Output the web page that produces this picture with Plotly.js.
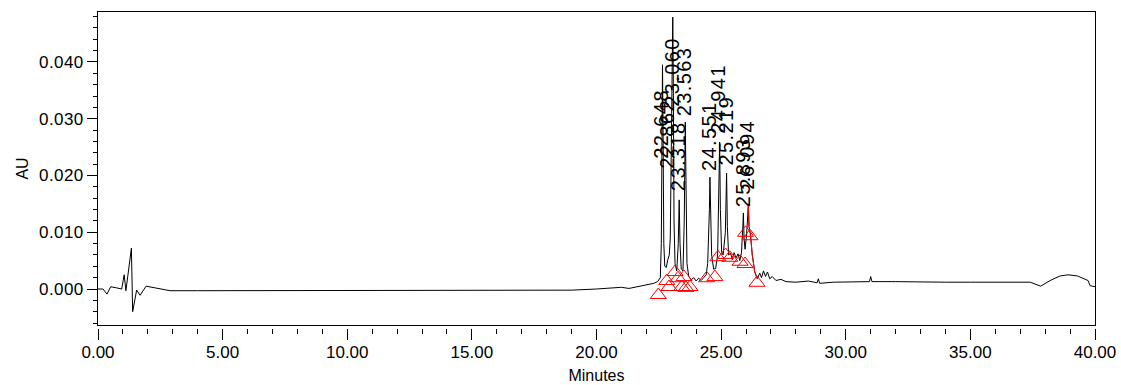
<!DOCTYPE html>
<html>
<head>
<meta charset="utf-8">
<script src="https://cdn.plot.ly/plotly-3.0.1.min.js"></script>
<style>
  html, body { margin: 0; padding: 0; background: #fff; }
  #chart { width: 1121px; height: 385px; }
  .annotation-text { letter-spacing: 1.4px; }
  .xtick text, .ytick text { letter-spacing: 0.4px; }
</style>
</head>
<body>
<div id="chart"></div>
<script>
// Chromatogram trace (minutes, AU)
const timeMin = [
  0, 0.2, 0.36, 0.51, 0.75, 0.95, 1.05, 1.12, 1.34, 1.39, 1.55, 1.69, 1.93, 2.35, 2.89,
  4, 6, 8, 10, 12, 14, 16, 18, 19, 20, 20.5, 21.0, 21.3, 21.75, 22.0, 22.3, 22.45,
  22.56, 22.60, 22.63, 22.648, 22.67, 22.70, 22.74, 22.80, 22.862, 22.92, 22.96,
  23.00, 23.04, 23.06, 23.08, 23.11, 23.15, 23.22, 23.28, 23.318, 23.35, 23.40,
  23.47, 23.52, 23.563, 23.59, 23.63, 23.70, 23.80, 23.90, 24.00, 24.10, 24.20,
  24.30, 24.40, 24.46, 24.50, 24.53, 24.551, 24.58, 24.62, 24.70, 24.78, 24.86,
  24.91, 24.941, 24.97, 25.02, 25.08, 25.14, 25.17, 25.219, 25.25, 25.30, 25.38,
  25.45, 25.52, 25.60, 25.68, 25.75, 25.82, 25.87, 25.893, 25.92, 25.96, 26.02,
  26.06, 26.094, 26.12, 26.18, 26.25, 26.35, 26.45, 26.55, 26.62, 26.70, 26.78,
  26.86, 26.95, 27.05, 27.20, 27.40, 27.60, 28.00, 28.50, 28.85, 28.90, 28.95,
  29.50, 30.00, 30.50, 30.95, 31.00, 31.05, 32, 33, 34, 35, 36, 37, 37.4, 37.82,
  38.2, 38.6, 38.92, 39.3, 39.6, 39.72, 39.8, 40
];
const absAU = [
  0, 0, -0.0009, 0.0004, 0.0002, 0.0000, 0.0025, -0.0003, 0.0072, -0.0040, -0.0002, -0.0011, 0.0005, 0.0001, -0.0003,
  -0.0003, -0.0003, -0.0003, -0.0003, -0.0003, -0.0003, -0.0003, -0.0002, -0.0002, 0.0000, 0.0002, 0.0003, 0.0001, 0.0005, 0.0007, 0.0010, 0.0013,
  0.0020, 0.0080, 0.0300, 0.0395, 0.0280, 0.0080, 0.0040, 0.0038, 0.0052, 0.0060, 0.0090,
  0.0220, 0.0440, 0.0479, 0.0380, 0.0120, 0.0045, 0.0032, 0.0080, 0.0157, 0.0080, 0.0035,
  0.0032, 0.0120, 0.0294, 0.0150, 0.0045, 0.0022, 0.0016, 0.0020, 0.0014, 0.0019, 0.0015,
  0.0020, 0.0025, 0.0045, 0.0083, 0.0140, 0.0197, 0.0100, 0.0060, 0.0035, 0.0036, 0.0060,
  0.0160, 0.0259, 0.0140, 0.0065, 0.0060, 0.0080, 0.0100, 0.0204, 0.0110, 0.0060, 0.0063,
  0.0052, 0.0064, 0.0055, 0.0062, 0.0050, 0.0065, 0.0110, 0.0134, 0.0090, 0.0070, 0.0095,
  0.0130, 0.0148, 0.0110, 0.0095, 0.0060, 0.0030, 0.0018, 0.0028, 0.0020, 0.0032, 0.0022,
  0.0030, 0.0018, 0.0022, 0.0015, 0.0017, 0.0013, 0.0012, 0.0014, 0.0011, 0.0018, 0.0010,
  0.0012, 0.0012, 0.0013, 0.0013, 0.0022, 0.0013, 0.0013, 0.0012, 0.0012, 0.0012, 0.0012, 0.0012, 0.0012, 0.0005,
  0.0015, 0.0023, 0.0025, 0.0023, 0.0018, 0.0015, 0.0006, 0.0004
];

// Portion of the trace drawn in red (integration of last peak)
const redStart = 26.06;
const redEnd = 26.45;

// Peak labels (retention times) and the height where each label starts
const peakLabels = ['22.648', '22.862', '23.060', '23.318', '23.563', '24.551', '24.941', '25.219', '25.893', '26.094'];
const peakTimes  = [22.648, 22.862, 23.060, 23.318, 23.563, 24.551, 24.941, 25.219, 25.893, 26.094];
const labelBase  = [0.0227, 0.0210, 0.0319, 0.0171, 0.0303, 0.0206, 0.0271, 0.0215, 0.0143, 0.0174];

// Peak start / end markers
const markTime = [22.48, 22.82, 22.91, 23.15, 23.27, 23.42, 23.51, 23.59, 23.75, 24.42, 24.75, 24.87, 25.18, 25.35, 25.76, 25.96, 25.98, 26.16, 26.44];
const markAU   = [-0.00106, 0.0014, 0.00035, 0.0030, 0.0019, 0.00035, 0.0021, 0.0002, 0.00035, 0.0019, 0.0021, 0.0056, 0.0060, 0.0055, 0.0048, 0.0044, 0.0099, 0.0093, 0.0011];

// Axis ticks
const xTickVals = [0, 5, 10, 15, 20, 25, 30, 35, 40];
const xTickText = ['0.00', '5.00', '10.00', '15.00', '20.00', '25.00', '30.00', '35.00', '40.00'];
const yTickVals = [0, 0.01, 0.02, 0.03, 0.04];
const yTickText = ['0.000', '0.010', '0.020', '0.030', '0.040'];

const redT = [], redV = [];
timeMin.forEach((t, i) => { if (t >= redStart && t <= redEnd) { redT.push(t); redV.push(absAU[i]); } });

const FONT = 'Liberation Sans, Arial, sans-serif';

const traces = [
  { x: timeMin, y: absAU, type: 'scatter', mode: 'lines',
    line: { color: '#000', width: 1 }, hoverinfo: 'skip', xaxis: 'x', yaxis: 'y' },
  { x: redT, y: redV, type: 'scatter', mode: 'lines',
    line: { color: '#ff0000', width: 1 }, hoverinfo: 'skip', xaxis: 'x', yaxis: 'y' },
  { x: markTime, y: markAU, type: 'scatter', mode: 'markers',
    marker: { symbol: 'triangle-up-open', size: 14, color: '#ff0000', line: { width: 1, color: '#ff0000' } },
    hoverinfo: 'skip', xaxis: 'x', yaxis: 'y' },
  // invisible trace to activate the tick axis
  { x: [0, 40], y: [0, 0], type: 'scatter', mode: 'lines', line: { width: 0 },
    opacity: 0, hoverinfo: 'skip', xaxis: 'x2', yaxis: 'y', showlegend: false }
];

const annotations = peakLabels.map((txt, i) => ({
  x: peakTimes[i], y: labelBase[i], xref: 'x', yref: 'y',
  text: txt, textangle: -90, showarrow: false,
  xanchor: 'center', yanchor: 'bottom', xshift: -1,
  borderpad: 0,
  font: { family: FONT, size: 20, color: '#000' }
}));

const layout = {
  width: 1121, height: 385,
  margin: { l: 98, r: 26, t: 12, b: 57 },
  paper_bgcolor: '#fff', plot_bgcolor: '#fff',
  showlegend: false,
  xaxis: {
    range: [0, 40], domain: [0, 1], anchor: 'y',
    showline: true, mirror: true, linecolor: '#000', linewidth: 1,
    ticks: '', showticklabels: false, showgrid: false, zeroline: false, automargin: false
  },
  xaxis2: {
    range: [0, 40], domain: [0, 1], overlaying: 'x', anchor: 'free', position: 0, side: 'bottom',
    showline: false, showgrid: false, zeroline: false, automargin: false,
    tickmode: 'array', tickvals: xTickVals, ticktext: xTickText,
    ticks: 'outside', ticklen: 11, tickcolor: '#000', tickwidth: 1, ticklabelstandoff: -2,
    minor: { dtick: 1, ticks: 'outside', ticklen: 5, tickcolor: '#000', tickwidth: 1, showgrid: false },
    tickfont: { family: FONT, size: 17, color: '#000' },
    title: { text: 'Minutes', font: { family: FONT, size: 16, color: '#000' }, standoff: 8 }
  },
  yaxis: {
    range: [-0.00634, 0.0488], domain: [3 / 316, 1], anchor: 'x',
    showline: true, mirror: true, linecolor: '#000', linewidth: 1,
    showgrid: false, zeroline: false, automargin: false,
    tickmode: 'array', tickvals: yTickVals, ticktext: yTickText,
    ticks: 'outside', ticklen: 10, tickcolor: '#000', tickwidth: 1,
    minor: { dtick: 0.002, ticks: 'outside', ticklen: 4, tickcolor: '#000', tickwidth: 1, showgrid: false },
    tickfont: { family: FONT, size: 17, color: '#000' },
    title: { text: 'AU', font: { family: FONT, size: 16, color: '#000' }, standoff: 6 }
  },
  annotations: annotations
};

Plotly.newPlot('chart', traces, layout, { staticPlot: true, displayModeBar: false });
</script>
</body>
</html>
